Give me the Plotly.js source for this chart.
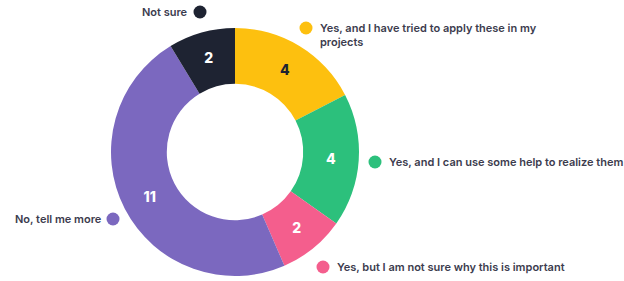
<!DOCTYPE html>
<html>
<head>
<meta charset="utf-8">
<script src="https://cdn.plot.ly/plotly-3.0.1.min.js"></script>
<style>html,body{margin:0;padding:0;background:#fff;}#chart{width:624px;height:281px;}</style>
</head>
<body>
<div id="chart"></div>
<script>
var categories = [
  "Yes, and I have tried to apply these in my<br>projects",
  "Yes, and I can use some help to realize them",
  "Yes, but I am not sure why this is important",
  "No, tell me more",
  "Not sure"
];
var values = [4, 4, 2, 11, 2];
var colors = ["#FDC00F", "#2CC07C", "#F45E8D", "#7B68BF", "#1E2332"];
var valueTextColors = ["#1E2332", "#ffffff", "#ffffff", "#ffffff", "#ffffff"];

// label placement (pixel coords in a 624x281 frame)
var dotX = [306, 375, 323, 113, 200];
var dotY = [28, 162, 267, 219, 12];
var textX = [318, 387, 335, 104, 190];
var textY = [35, 162, 267, 219, 12];
var textAnchor = ["left", "left", "left", "right", "right"];

var W = 624, H = 281, cx = 235, cy = 152, R = 124;

var pie = {
  type: "pie",
  values: values,
  labels: categories,
  sort: false,
  direction: "clockwise",
  rotation: 0,
  hole: 0.55,
  marker: {colors: colors, line: {width: 0}},
  textinfo: "value",
  textposition: "inside",
  insidetextorientation: "horizontal",
  textfont: {family: "Inter, 'Open Sans', sans-serif", size: 14, weight: 800, color: valueTextColors},
  showlegend: false,
  hoverinfo: "label+value",
  domain: {x: [(cx - R) / W, (cx + R) / W], y: [(H - cy - R) / H, (H - cy + R) / H]}
};

var dots = {
  type: "scatter",
  mode: "markers",
  x: dotX,
  y: dotY,
  marker: {size: 13, color: colors, line: {width: 0}},
  hoverinfo: "skip",
  showlegend: false,
  xaxis: "x",
  yaxis: "y"
};

var annotations = categories.map(function (c, i) {
  return {
    x: textX[i], y: textY[i], xref: "x", yref: "y",
    text: c, showarrow: false,
    xanchor: textAnchor[i], yanchor: "middle", align: "left",
    font: {family: "Inter, 'Open Sans', sans-serif", size: 11, weight: 600, color: "#3C3C4E"}
  };
});

var layout = {
  width: W, height: H,
  margin: {l: 0, r: 0, t: 0, b: 0},
  paper_bgcolor: "#ffffff",
  plot_bgcolor: "rgba(0,0,0,0)",
  xaxis: {range: [0, W], visible: false, fixedrange: true, domain: [0, 1]},
  yaxis: {range: [H, 0], visible: false, fixedrange: true, domain: [0, 1]},
  annotations: annotations,
  showlegend: false
};

Plotly.newPlot("chart", [pie, dots], layout, {displayModeBar: false, staticPlot: true});
</script>
</body>
</html>
